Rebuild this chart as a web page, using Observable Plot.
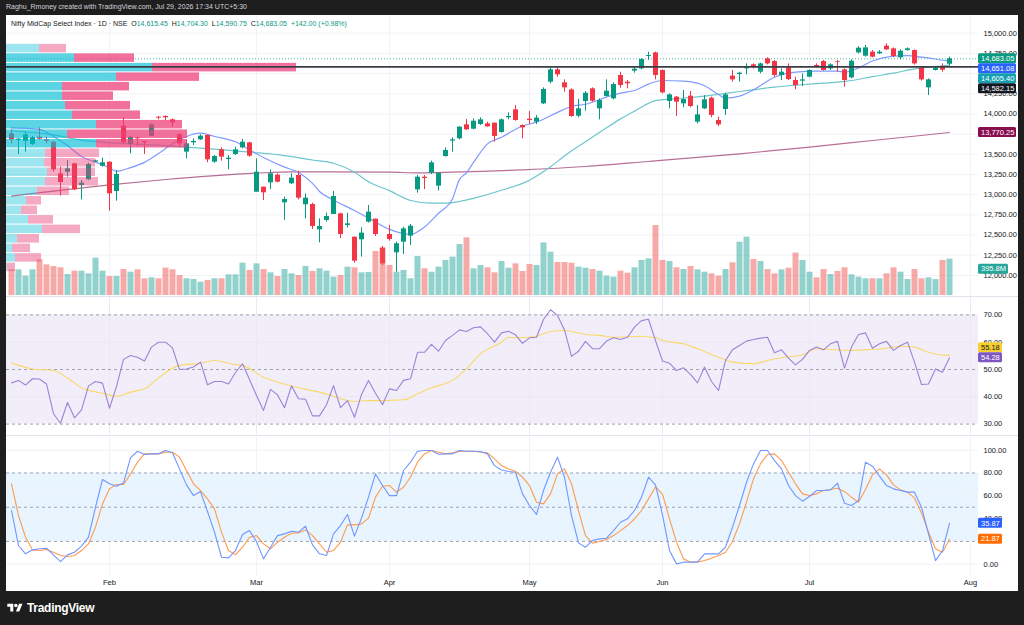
<!DOCTYPE html>
<html><head><meta charset="utf-8">
<script src="https://cdn.jsdelivr.net/npm/d3@7"></script>
<script src="https://cdn.jsdelivr.net/npm/@observablehq/plot@0.6"></script>
<style>
html,body{margin:0;padding:0;}
body{width:1024px;height:625px;background:#1e1e1e;position:relative;overflow:hidden;font-family:"Liberation Sans",Arial,sans-serif;}
#credit{position:absolute;left:6px;top:3px;font-size:7px;color:#d1d4dc;white-space:nowrap;}
#panel{position:absolute;left:6px;top:15px;width:1012px;height:576px;background:#fff;overflow:hidden;}
#panel svg{position:absolute;left:0;}
.sep{position:absolute;left:0;width:1012px;height:1px;background:#e0e3eb;}
#legend{position:absolute;left:5px;top:5px;font-size:7px;color:#131722;white-space:nowrap;z-index:10;}
#legend .g{color:#089981;}
#brand{position:absolute;left:7px;top:601px;display:flex;align-items:center;color:#fff;}
#brand span{margin-left:4px;font-size:12px;font-weight:bold;letter-spacing:-0.3px;}
</style></head>
<body>
<div id="credit">Raghu_Rmoney created with TradingView.com, Jul 29, 2026 17:34 UTC+5:30</div>
<div id="panel"><div id="legend"></div></div>
<div id="brand"><svg width="16" height="12" viewBox="0 0 36 28"><path d="M14 22H7V11H0V4h14v18zM28 22h-8l7.5-18h8L28 22z" fill="#fff"/><circle cx="20" cy="8" r="4" fill="#fff"/></svg><span>TradingView</span></div>
<script>
// ---------- DATA ----------
const open = [13754,13671,13659,13622,13712,13679,13650,13258,13279,13382, 13114,13184,13403,13353,13403,13040,13849,13622,13704,13659, 13721,13960,13968,13927,13745,13527,13642,13679,13733,13403, 13556,13436,13498,13580,13642,13031,13093,13147,13242,12899, 13135,13238,12875,12879,12565,12681,12755,12763,12619,12474, 12441,12660,12697,12338,12507,12280,12412,12487,13060,13217, 13267,13106,13473,13663,13692,13865,13811,13869,13877,13886, 13770,13952,14051,13857,13935,13898,14125,14393,14546,14385, 14298,13972,14154,14311,14063,14216,14187,14476,14393,14530, 14558,14711,14756,14538,14154,14208,14125,14220,13898,14063, 14195,13919,14055,14468,14488,14558,14608,14517,14682,14649, 14476,14571,14414,14406,14455,14600,14649,14558,14645,14546, 14447,14756,14715,14765,14744,14839,14806,14695,14785,14785, 14571,14323,14538,14579,14615.45];
const high = [13803,13692,13774,13721,13828,13712,13659,13341,13423,13390, 13176,13390,13428,13452,13403,13300,13952,13721,13712,13659, 13877,13968,13976,13939,13754,13671,13692,13741,13741,13485, 13580,13485,13589,13683,13650,13444,13093,13308,13258,12970, 13258,13291,13011,12895,12701,12772,13040,12771,12771,12474, 12590,12866,12697,12359,12619,12412,12598,12631,13238,13238, 13415,13267,13580,13704,13844,13931,13939,13952,13898,13886, 13939,14014,14104,13865,14030,13981,14323,14567,14567,14422, 14311,14179,14278,14323,14187,14422,14385,14517,14414,14579, 14682,14765,14765,14546,14249,14216,14290,14278,14104,14228, 14208,13960,14257,14538,14517,14620,14620,14629,14695,14662, 14558,14620,14455,14496,14546,14620,14662,14620,14662,14558, 14670,14835,14847,14785,14785,14868,14818,14794,14818,14794, 14579,14435,14571,14620,14704.30];
const low = [13630,13498,13527,13609,13671,13630,13279,12982,13217,13052, 12936,13176,13399,13341,12796,12920,13630,13506,13597,13498, 13721,13927,13910,13836,13589,13444,13609,13671,13395,13390, 13415,13308,13485,13568,13465,13031,12928,13064,13147,12681, 13126,12936,12701,12569,12404,12660,12755,12454,12590,12152, 12227,12648,12483,12123,12425,12041,12260,12371,13019,13064, 13250,13044,13465,13527,13679,13795,13803,13857,13836,13650, 13762,13927,13910,13692,13869,13869,14117,14373,14455,14270, 13960,13952,14034,14146,13927,14208,14175,14319,14311,14505, 14546,14662,14422,14249,14063,13968,14076,14076,13877,14055, 13952,13844,13981,14393,14393,14484,14558,14496,14608,14455, 14414,14414,14298,14340,14447,14571,14530,14538,14517,14331, 14435,14744,14703,14695,14736,14785,14695,14670,14777,14604, 14406,14228,14530,14517,14590.75];
const close = [13679,13688,13741,13704,13688,13659,13308,13151,13320,13060, 13143,13374,13419,13395,13011,13250,13642,13712,13692,13642, 13865,13948,13952,13890,13630,13630,13659,13725,13432,13473, 13465,13452,13556,13650,13477,13279,13023,13258,13155,12941, 13205,12957,12957,12606,12606,12730,12978,12507,12639,12177, 12524,12784,12507,12144,12445,12392,12577,12610,13217,13201, 13395,13267,13547,13679,13836,13803,13910,13927,13840,13721, 13927,13968,13919,13828,13919,13948,14303,14546,14484,14323, 13968,14063,14257,14158,14166,14282,14364,14352,14373,14554, 14674,14723,14476,14261,14236,14146,14179,14092,13989,14175, 13981,13865,14236,14422,14505,14571,14579,14620,14620,14476, 14517,14426,14352,14422,14538,14587,14538,14608,14637,14414, 14653,14814,14818,14703,14765,14794,14711,14777,14806,14620, 14422,14422,14567,14541.05,14683.05];
const volume = [280,280,211,280,389,334,316,302,229,265, 265,236,407,265,207,207,283,254,280,182, 193,182,298,280,218,182,174,145,164,182, 182,225,225,352,273,345,283,247,207,283, 236,218,316,262,291,265,200,218,309,302, 247,251,480,516,327,254,273,182,425,291, 254,309,382,418,556,629,291,327,302,247, 371,298,345,262,338,327,574,472,360,360, 352,309,298,283,265,211,200,265,243,302, 382,400,763,382,371,302,283,316,280,254, 236,211,283,356,581,636,392,371,283,236, 280,298,462,382,254,193,283,229,262,302, 225,200,182,182,182,236,302,254,174,283, 182,193,174,382,395.8];
// moving averages read at sample bars
const fastIdx = [0,4,6,8,10,12,14,15,17,19, 21,23,25,27,29,32,34,36,39,41, 43,44,46,49,51,54,57,59,61,63, 64,65,66,68,70,73,75,78,80,82, 85,87,89,91,93,96,99,101,102,104, 106,109,112,115,118,119,121,123,126,128, 130,132,134];
const fastVal = [13828,13810,13721,13609,13473,13403,13333,13290,13335,13400, 13510,13630,13721,13762,13721,13655,13556,13460,13341,13275, 13140,13040,12935,12804,12710,12570,12507,12600,12770,12950, 13190,13270,13400,13630,13712,13850,13898,14020,14092,14120, 14208,14257,14290,14370,14414,14406,14350,14240,14195,14220, 14298,14455,14517,14529,14529,14517,14570,14655,14715,14723, 14703,14680,14651.08];
const midIdx = [0,6,10,15,20,25,29,34,39,43, 46,49,51,54,57,60,62,64,66,70, 74,77,79,82,85,87,89,92,95,99, 102,104,106,109,112,115,118,120,123,126, 129,131,134];
const midVal = [13795,13740,13675,13638,13618,13589,13564,13527,13485,13430, 13390,13279,13160,13050,12928,12895,12895,12916,12955,13055, 13180,13345,13480,13655,13828,13939,14035,14166,14190,14220, 14255,14278,14300,14331,14355,14375,14393,14414,14463,14505, 14558,14579,14605.40];
const slowIdx = [0,14,22,35,40,54,58,63,73,82,91,104,114,123,134];
const slowVal = [12982,13122,13188,13267,13283,13279,13271,13279,13308,13349,13411,13506,13589,13671,13770.25];
const levelLine = 14582.15;
// volume profile rows, top (high price) to bottom, in millions
const profUp = [330,680,1460,1100,560,560,590,660,900,610,900,390,380,410,390,310,200,150,220,360,110,60,90,10];
const profDown = [270,600,1440,830,670,510,650,680,860,1200,910,540,510,480,530,320,150,160,250,380,220,180,260,80];
const valueAreaRows = [1, 10];
// RSI and its moving average
const rsi = [45.1,46.0,44.3,46.6,46.5,44.7,33.8,30.3,37.9,32.3, 35.2,44.0,45.6,45.0,35.8,43.8,53.7,55.1,54.5,53.1, 58.2,60.0,60.0,57.9,50.0,50.2,50.9,52.7,44.4,45.6, 45.6,44.7,48.9,52.1,46.3,40.5,35.0,42.7,40.7,36.0, 44.0,39.3,39.1,33.0,33.0,37.1,44.1,36.0,38.6,32.5, 40.8,46.0,41.3,37.1,42.9,42.3,46.0,46.6,56.3,56.3, 59.2,56.7,60.6,62.5,64.5,63.9,65.3,65.6,63.1,60.0, 63.4,64.0,62.7,59.6,61.6,61.8,68.3,71.9,69.8,64.5, 54.8,56.7,60.3,57.6,57.6,60.4,61.6,61.0,61.8,65.5, 67.9,68.4,60.6,53.1,52.3,49.6,50.6,48.2,45.1,50.9, 45.6,42.3,53.3,57.2,58.8,60.4,61.0,61.5,61.8,56.1, 57.2,54.2,51.7,53.7,57.0,58.2,57.2,59.4,60.3,50.5, 58.2,62.8,63.4,57.8,59.4,60.3,57.0,58.8,60.0,52.7, 44.5,44.7,50.2,49.0,54.28];
const rsiMAIdx = [0,1,3,6,8,10,13,15,17,19, 21,24,27,29,32,33,36,39,41,44, 46,49,51,53,56,58,60,63,65,67, 70,71,72,75,77,79,82,84,86,90, 92,93,96,98,101,103,106,108,110,113, 115,117,120,122,125,127,129,131,132,134];
const rsiMAVal = [52.4,51.5,50.2,49.6,46.9,43.3,41.3,40.2,41.7,42.9, 46.9,51.5,52.3,53.3,51.8,51.5,47.2,44.7,43.3,41.7, 40.2,38.3,38.6,38.6,38.9,41.1,43.3,46.0,50.2,55.7, 60.0,61.8,61.6,62.2,63.9,64.3,62.8,62.5,61.8,62.2, 61.6,60.6,59.4,57.6,54.5,52.7,52.1,53.3,54.3,55.4, 57.6,57.3,57.0,57.2,57.8,58.5,58.2,56.3,55.7,55.18];
// Stochastic %K and %D
const stochK = [47.1,16.4,9.1,12.6,13.5,14.0,8.2,2.3,8.2,10.5, 15.8,23.7,50.0,74.3,70.5,68.4,71.3,93.3,99.1,96.2, 96.8,96.8,99.7,97.7,83.6,69.6,60.2,63.7,46.2,28.1, 6.1,5.6,12.0,26.0,29.5,19.9,4.7,14.9,25.1,26.6, 28.9,28.1,33.3,17.0,9.1,7.6,26.6,33.9,43.6,24.6, 40.4,58.8,79.2,69.0,60.2,60.2,82.2,89.5,99.1,99.7, 99.7,96.5,96.8,96.8,99.7,99.1,99.1,98.8,96.8,86.5, 82.7,81.3,80.7,61.7,51.5,43.6,64.6,80.7,93.9,76.3, 42.7,18.7,14.9,20.8,22.2,22.8,29.5,36.8,39.8,47.1, 58.8,76.3,69.6,43.3,12.0,0.3,1.8,1.8,1.8,9.1, 9.1,9.1,14.9,32.5,51.5,71.9,88.0,99.7,99.7,90.9, 83.6,69.0,60.2,55.3,59.4,64.6,64.6,65.2,71.1,53.5, 51.5,55.8,89.5,86.0,77.2,69.0,66.1,64.6,63.2,63.2, 50.0,26.6,3.2,12.0,35.87];
const stochD = [70.5,42.7,23.7,12.6,12.0,12.9,10.5,7.6,6.7,7.6, 12.0,17.8,32.5,52.9,66.1,69.9,69.9,79.2,89.5,96.8, 96.8,96.8,98.2,98.2,93.9,82.2,70.5,64.6,57.3,48.5, 28.1,12.0,8.2,14.9,23.7,25.1,17.8,13.5,19.3,23.7, 27.2,27.5,30.1,25.1,17.8,10.5,12.0,19.3,34.5,34.5, 35.4,40.4,58.8,68.4,69.0,63.2,67.5,76.3,89.5,96.8, 99.7,98.2,96.8,97.7,98.8,99.1,99.1,98.2,97.7,92.4, 86.5,83.6,81.6,76.3,69.0,54.4,52.9,61.7,79.2,83.6, 70.5,47.1,25.1,18.4,19.9,21.6,25.1,29.5,33.9,39.8, 47.1,57.3,67.8,61.4,39.8,19.3,4.7,1.8,1.8,3.2, 5.3,7.6,10.5,19.9,35.4,54.4,74.9,88.0,96.2,96.8, 90.9,80.7,70.5,61.7,60.2,61.7,64.6,65.5,66.7,63.7, 58.8,54.4,65.5,78.4,83.6,78.4,69.6,65.2,63.2,57.9, 45.0,28.1,13.5,10.5,21.87];
// axis ticks (gridlines) and the tick labels left visible beside the value tags
const monthIdx = [14,35,54,74,93,114,137];
const monthLabels = ["Feb","Mar","Apr","May","Jun","Jul","Aug"];
const priceGrid = [12000,12250,12500,12750,13000,13250,13500,13750,14000,14250,14500,14750,15000];
const priceTickLabels = [12000,12250,12500,12750,13000,13250,13500,14000,14250,14750,15000];
const rsiTicks = [30,40,50,60,70];
const stochGrid = [0,40,60,100];
const stochTickLabels = [0,40,60,80,100];

// ---------- BUILD ----------
const N = close.length;
const idx = d3.range(N);
const bars = idx.map(i => ({i, o: open[i], h: high[i], l: low[i], c: close[i], v: volume[i], up: close[i] >= open[i]}));
const pts = (xs, ys) => xs.map((x, k) => ({x, y: ys[k]}));
const GREEN = "#089981", RED = "#f23645";
const W = 1012, MR = 40;
const xDomain = [-5/7, 967/7];
const style = {fontSize: "7.5px", fontFamily: '"Liberation Sans", Arial, sans-serif', color: "#131722", background: "transparent", overflow: "visible"};
const base = {width: W, marginLeft: 0, marginRight: MR, style};
const fmt2 = d3.format(",.2f");
const panel = document.getElementById("panel");

function place(svg, top) { svg.style.top = top + "px"; panel.appendChild(svg); return svg; }
function tag(svg, y, w, text, bg, fg) {
  const g = d3.select(svg).append("g").attr("text-anchor", "start");
  g.append("rect").attr("x", 972).attr("y", y - 5).attr("width", w).attr("height", 10).attr("rx", 1.5).attr("fill", bg);
  g.append("text").attr("x", 975).attr("y", y).attr("dy", "0.36em").attr("fill", fg).attr("text-anchor", "start")
    .attr("font-size", "7.5px").attr("font-family", '"Liberation Sans", Arial, sans-serif').text(text);
}

// main price panel
const priceDomain = [11727, 15219];
const main = Plot.plot({
  ...base, height: 282, marginTop: 0, marginBottom: 0,
  x: {domain: xDomain, axis: null},
  y: {domain: priceDomain, axis: "right", ticks: priceTickLabels, tickFormat: fmt2, tickSize: 0, tickPadding: 5, label: null},
  marks: [
    Plot.ruleY(priceGrid, {stroke: "#f0f3fa"}),
    Plot.ruleX(monthIdx, {stroke: "#f0f3fa"}),
    Plot.ruleY([close[N - 1]], {stroke: GREEN, strokeOpacity: 0.7, strokeDasharray: "1,2"}),
    Plot.line(pts(slowIdx, slowVal), {x: "x", y: "y", stroke: "rgba(136,14,79,0.6)", strokeWidth: 1.2, curve: "monotone-x"}),
    Plot.line(pts(midIdx, midVal), {x: "x", y: "y", stroke: "#6cc6cc", strokeWidth: 1.2, curve: "monotone-x"}),
    Plot.line(pts(fastIdx, fastVal), {x: "x", y: "y", stroke: "#7f9bff", strokeWidth: 1.2, curve: "monotone-x"}),
    Plot.ruleX(bars, {x: "i", y1: "l", y2: "h", stroke: d => d.up ? GREEN : RED, strokeWidth: 1}),
    Plot.ruleX(bars, {x: "i", y1: "o", y2: "c", stroke: d => d.up ? GREEN : RED, strokeWidth: 5})
  ]
});
place(main, 0);

// volume overlay
const volPlot = Plot.plot({
  ...base, height: 282, marginTop: 0, marginBottom: 2,
  x: {domain: xDomain, axis: null},
  y: {domain: [0, 3052], axis: null},
  marks: [
    Plot.ruleX(bars, {x: "i", y1: 0, y2: "v", stroke: d => d.up ? "rgba(38,166,154,0.5)" : "rgba(239,83,80,0.5)", strokeWidth: 6})
  ]
});
place(volPlot, 0);

// volume profile overlay
const pHi = d3.max(high), pLo = d3.min(low), rows = profUp.length, step = (pHi - pLo) / rows;
const prof = profUp.map((u, k) => ({
  y2: pHi - k * step, y1: pHi - (k + 1) * step, up: u, dn: profDown[k],
  va: k >= valueAreaRows[0] && k <= valueAreaRows[1]
}));
const profPlot = Plot.plot({
  ...base, height: 282, marginTop: 0, marginBottom: 0,
  x: {domain: [0, 9720], axis: null},
  y: {domain: priceDomain, axis: null},
  marks: [
    Plot.rect(prof, {x1: 0, x2: "up", y1: "y1", y2: "y2", insetTop: 0.5, insetBottom: 0.5,
      fill: d => d.va ? "rgba(0,188,212,0.64)" : "rgba(0,188,212,0.38)"}),
    Plot.rect(prof, {x1: "up", x2: d => d.up + d.dn, y1: "y1", y2: "y2", insetTop: 0.5, insetBottom: 0.5,
      fill: d => d.va ? "rgba(236,64,122,0.74)" : "rgba(236,64,122,0.45)"}),
    Plot.ruleY([levelLine], {stroke: "#3a3d45", strokeWidth: 1.7})
  ]
});
place(profPlot, 0);

// price tags (stacked downward)
const yS = main.scale("y");
const priceTags = [
  {v: close[N - 1], bg: GREEN},
  {v: fastVal[fastVal.length - 1], bg: "#2962ff"},
  {v: midVal[midVal.length - 1], bg: "#14a0b0"},
  {v: levelLine, bg: "#131722"}
];
let prevY = -Infinity;
for (const t of priceTags) {
  const y = Math.max(yS.apply(t.v), prevY + 10);
  tag(profPlot, y, 38, fmt2(t.v), t.bg, "#fff");
  prevY = y;
}
tag(profPlot, yS.apply(slowVal[slowVal.length - 1]), 38, fmt2(slowVal[slowVal.length - 1]), "#880e4f", "#fff");
const vS = volPlot.scale("y");
tag(profPlot, vS.apply(volume[N - 1]) + 10, 30, d3.format(".1f")(volume[N - 1]) + "M", "#26a69a", "#fff");

// separator
const sep1 = document.createElement("div"); sep1.className = "sep"; sep1.style.top = "281px"; panel.appendChild(sep1);

// RSI panel
const rsiRows = idx.map(i => ({i, r: rsi[i], k: stochK[i], d: stochD[i]}));
const rsiPlot = Plot.plot({
  ...base, height: 138, marginTop: 0, marginBottom: 0,
  x: {domain: xDomain, axis: null},
  y: {domain: [25.82, 76.37], axis: "right", ticks: rsiTicks, tickFormat: d3.format(".2f"), tickSize: 0, tickPadding: 5, label: null},
  marks: [
    Plot.rect([0], {x1: xDomain[0], x2: xDomain[1], y1: 30, y2: 70, fill: "rgba(126,87,194,0.1)"}),
    Plot.ruleY([40, 60], {stroke: "#e9e6f2"}),
    Plot.ruleX(monthIdx, {stroke: "#ece9f4"}),
    Plot.ruleY([30, 50, 70], {stroke: "#9598a1", strokeDasharray: "3,3", strokeWidth: 0.9}),
    Plot.line(pts(rsiMAIdx, rsiMAVal), {x: "x", y: "y", stroke: "#f9d86a", strokeWidth: 1.1, curve: "monotone-x"}),
    Plot.line(rsiRows, {x: "i", y: "r", stroke: "#9d82d8", strokeWidth: 1.1})
  ]
});
place(rsiPlot, 282);
const rS = rsiPlot.scale("y");
const yR2 = rS.apply(rsi[N - 1]);
const yR1 = Math.min(rS.apply(rsiMAVal[rsiMAVal.length - 1]), yR2 - 10);
tag(rsiPlot, yR1, 24, d3.format(".2f")(rsiMAVal[rsiMAVal.length - 1]), "#f7d130", "#131722");
tag(rsiPlot, yR2, 24, d3.format(".2f")(rsi[N - 1]), "#7e57c2", "#fff");

const sep2 = document.createElement("div"); sep2.className = "sep"; sep2.style.top = "420px"; panel.appendChild(sep2);

// Stochastic panel with time axis
const stPlot = Plot.plot({
  ...base, height: 156, marginTop: 0, marginBottom: 16,
  x: {domain: xDomain, ticks: monthIdx, tickFormat: d => monthLabels[monthIdx.indexOf(d)], tickSize: 0, tickPadding: 4, label: null},
  y: {domain: [-9.9, 112.9], axis: "right", ticks: stochTickLabels, tickFormat: d3.format(".2f"), tickSize: 0, tickPadding: 5, label: null},
  marks: [
    Plot.rect([0], {x1: xDomain[0], x2: xDomain[1], y1: 20, y2: 80, fill: "rgba(33,150,243,0.1)"}),
    Plot.ruleY(stochGrid, {stroke: "#eef1f7"}),
    Plot.ruleX(monthIdx, {stroke: "#f0f3fa"}),
    Plot.ruleY([20, 50, 80], {stroke: "#9598a1", strokeDasharray: "3,3", strokeWidth: 0.9}),
    Plot.line(rsiRows, {x: "i", y: "d", stroke: "#ff9a4d", strokeWidth: 1.1}),
    Plot.line(rsiRows, {x: "i", y: "k", stroke: "#7196ff", strokeWidth: 1.1})
  ]
});
place(stPlot, 420);
const sS = stPlot.scale("y");
tag(stPlot, sS.apply(stochK[N - 1]), 24, d3.format(".2f")(stochK[N - 1]), "#2962ff", "#fff");
tag(stPlot, sS.apply(stochD[N - 1]), 24, d3.format(".2f")(stochD[N - 1]), "#ff6d00", "#fff");

// legend header
const chg = close[N - 1] - close[N - 2];
const pct = chg / close[N - 2] * 100;
const f2 = d3.format(",.2f");
document.getElementById("legend").innerHTML =
  "Nifty MidCap Select Index · 1D · NSE&nbsp;&nbsp;" +
  "O<span class='g'>" + f2(open[N - 1]) + "</span>&nbsp;&nbsp;" +
  "H<span class='g'>" + f2(high[N - 1]) + "</span>&nbsp;&nbsp;" +
  "L<span class='g'>" + f2(low[N - 1]) + "</span>&nbsp;&nbsp;" +
  "C<span class='g'>" + f2(close[N - 1]) + "</span>&nbsp;&nbsp;" +
  "<span class='g'>" + (chg >= 0 ? "+" : "") + f2(chg) + " (" + (pct >= 0 ? "+" : "") + pct.toFixed(2) + "%)</span>";
</script>
</body></html>
